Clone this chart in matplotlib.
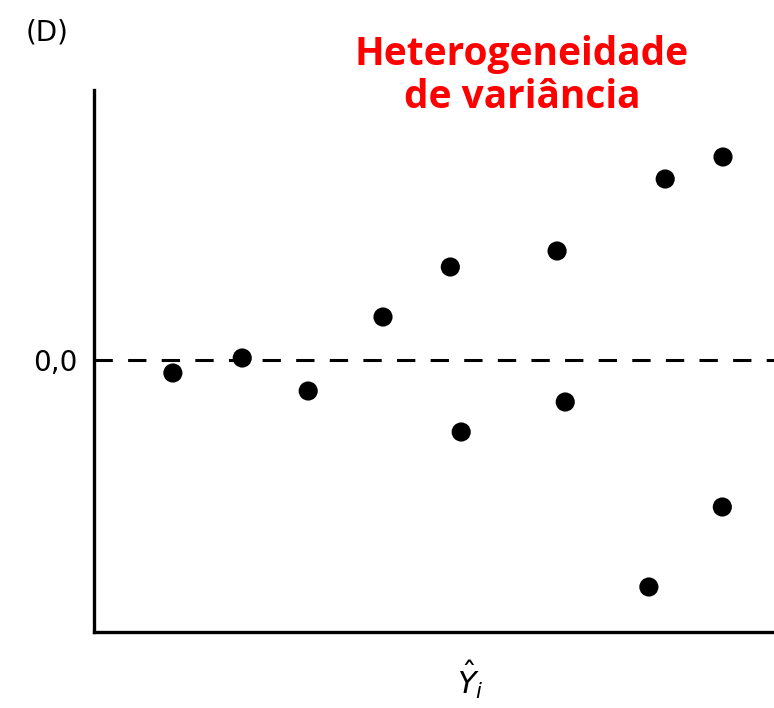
import matplotlib.pyplot as plt

# fitted values and residuals
fitted = [1.16, 2.18, 3.15, 4.25, 5.24, 5.40, 6.81, 6.93, 8.40, 9.25, 8.16, 9.24]
resid = [-0.13, 0.02, -0.31, 0.43, 0.93, -0.72, 1.09, -0.42, 1.81, 2.03, -2.27, -1.47]

fig = plt.figure(figsize=(7.74, 7.08), dpi=100)
ax = fig.add_axes([94 / 774, 1 - 632 / 708, 1 - 94 / 774, (632 - 90) / 708])

ax.scatter(fitted, resid, s=190, c='black', edgecolors='none', zorder=3)
ax.axhline(0, ls=(0, (6, 5)), color='black', lw=2.2)

ax.set_xlim(0, 10)
ax.set_ylim(-2.72, 2.70)
ax.spines['top'].set_visible(False)
ax.spines['right'].set_visible(False)
ax.spines['left'].set_linewidth(2.4)
ax.spines['bottom'].set_linewidth(2.4)
ax.set_xticks([])
ax.set_yticks([0])
ax.set_yticklabels(['0,0'], fontsize=20)
ax.tick_params(axis='y', length=0, pad=12)

fig.text(26 / 774, 1 - 32 / 708, '(D)', fontsize=20, va='center', ha='left')
fig.text(522 / 774, 1 - 76 / 708, 'Heterogeneidade\nde variância', color='#ff0000',
         fontsize=28, fontweight='bold', ha='center', va='center', linespacing=1.15,
         family='Open Sans')
fig.text(470 / 774, 1 - 680 / 708, r'$\hat{Y}_i$', fontsize=22, ha='center', va='center')

plt.savefig('out.png', dpi=100)
